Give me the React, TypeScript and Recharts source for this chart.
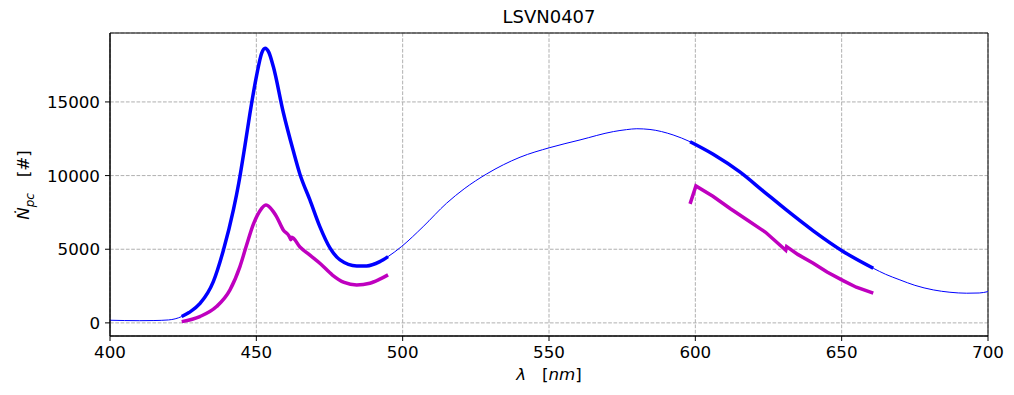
import { LineChart, Line, XAxis, YAxis, CartesianGrid, ReferenceArea } from 'recharts';

// full spectrum (thin line)
const spectrumNm = [400, 405, 410, 415, 420, 424.5, 427, 430.7, 435.3, 438.7, 442.2, 444, 446, 447.8, 450.1, 451.8, 453, 454.2, 455.8, 459.2, 462.6, 464.9, 468.3, 471.7, 475.2, 478.6, 484.3, 487.7, 492.2, 495, 499.6, 507, 515, 521, 528.7, 540.1, 550.3, 560.6, 572, 576.5, 580, 584.5, 592.4, 598.2, 606.1, 615.2, 623.2, 631.2, 640.3, 650.5, 660.8, 665, 669.9, 675, 681.3, 687, 692.7, 697, 700];
const spectrumCounts = [180, 160, 150, 160, 200, 430, 700, 1300, 2800, 4900, 7700, 9500, 11900, 14200, 16800, 18300, 18650, 18400, 17400, 14300, 11700, 10093, 8350, 6536, 5070, 4276, 3869, 3869, 4160, 4500, 5180, 6536, 8124, 9100, 10113, 11247, 11900, 12421, 12986, 13120, 13180, 13130, 12760, 12300, 11450, 10250, 8950, 7650, 6250, 4850, 3710, 3300, 2920, 2550, 2240, 2080, 2015, 2030, 2125];

// thick blue segments
const blueLeftNm = [424.5, 427, 430.7, 435.3, 438.7, 442.2, 444, 446, 447.8, 450.1, 451.8, 453, 454.2, 455.8, 459.2, 462.6, 464.9, 468.3, 471.7, 475.2, 478.6, 484.3, 487.7, 492.2, 495];
const blueLeftCounts = [430, 700, 1300, 2800, 4900, 7700, 9500, 11900, 14200, 16800, 18300, 18650, 18400, 17400, 14300, 11700, 10093, 8350, 6536, 5070, 4276, 3869, 3869, 4160, 4500];
const blueRightNm = [598.2, 606.1, 615.2, 623.2, 631.2, 640.3, 650.5, 660.8];
const blueRightCounts = [12300, 11450, 10250, 8950, 7650, 6250, 4850, 3710];

// magenta segments
const magLeftNm = [424.5, 430.7, 436.4, 441, 444.4, 446.7, 449, 451.2, 453.3, 455.8, 456.9, 459.2, 461.3, 461.8, 462.1, 464.9, 468, 472, 476, 480, 484.3, 488.8, 492, 495];
const magLeftCounts = [88, 428, 1106, 2240, 3821, 5300, 6700, 7600, 8000, 7555, 7215, 6312, 5860, 5650, 5820, 5150, 4650, 4000, 3250, 2750, 2580, 2695, 2950, 3258];
const magRightNm = [598.2, 600.2, 606, 612, 618, 624, 630.9, 631.2, 635, 640.3, 645, 650.5, 655, 660.8];
const magRightCounts = [8077, 9300, 8600, 7750, 6950, 6150, 4930, 5180, 4650, 4052, 3450, 2871, 2420, 2015];

const xTicks = [400, 450, 500, 550, 600, 650, 700];
const yTicks = [0, 5000, 10000, 15000];

const zip = (nm: number[], counts: number[]) => nm.map((x, i) => ({ nm: x, counts: counts[i] }));

const spectrum = zip(spectrumNm, spectrumCounts);
const blueLeft = zip(blueLeftNm, blueLeftCounts);
const blueRight = zip(blueRightNm, blueRightCounts);
const magLeft = zip(magLeftNm, magLeftCounts);
const magRight = zip(magRightNm, magRightCounts);

const font = 'DejaVu Sans, sans-serif';
const tickStyle = { fill: '#000', fontSize: 16.7, fontFamily: font };
const Y_MIN = -890;
const Y_MAX = 19680;

export default function App() {
  return (
    <div style={{ position: 'absolute', left: 0, top: 0, width: 1014, height: 395, background: '#fff', fontFamily: font }}>
      <LineChart width={1014} height={395} margin={{ top: 33, right: 26, bottom: 0, left: 0 }}>
        <CartesianGrid stroke="#b0b0b0" strokeDasharray="3.7 1.6" />
        <XAxis
          type="number"
          dataKey="nm"
          domain={[400, 700]}
          ticks={xTicks}
          allowDataOverflow
          height={59}
          tick={tickStyle}
          tickSize={5}
          tickMargin={5}
          stroke="#000"
        />
        <YAxis
          type="number"
          dataKey="counts"
          domain={[Y_MIN, Y_MAX]}
          ticks={yTicks}
          allowDataOverflow
          width={110}
          tick={tickStyle}
          tickSize={5}
          tickMargin={5}
          stroke="#000"
        />
        <ReferenceArea x1={400} x2={700} y1={Y_MIN} y2={Y_MAX} fill="none" stroke="#000" strokeWidth={1} />
        <Line data={spectrum} dataKey="counts" type="monotone" stroke="#0000ff" strokeWidth={1} dot={false} isAnimationActive={false} />
        <Line data={blueLeft} dataKey="counts" type="monotone" stroke="#0000ff" strokeWidth={3.5} dot={false} isAnimationActive={false} />
        <Line data={blueRight} dataKey="counts" type="monotone" stroke="#0000ff" strokeWidth={3.5} dot={false} isAnimationActive={false} />
        <Line data={magLeft} dataKey="counts" type="monotone" stroke="#bf00bf" strokeWidth={3.5} dot={false} isAnimationActive={false} />
        <Line data={magRight} dataKey="counts" type="linear" stroke="#bf00bf" strokeWidth={3.5} dot={false} isAnimationActive={false} />
      </LineChart>
      <div style={{ position: 'absolute', left: 0, width: 1098, top: 6, textAlign: 'center', fontSize: 18, color: '#000' }}>
        LSVN0407
      </div>
      <div style={{ position: 'absolute', left: 0, width: 1098, top: 364, textAlign: 'center', fontSize: 16.7, color: '#000', whiteSpace: 'pre' }}>
        <i>λ</i>{'   ['}<i>nm</i>{']'}
      </div>
      <div
        style={{
          position: 'absolute',
          left: 25,
          top: 185,
          fontSize: 16.7,
          color: '#000',
          whiteSpace: 'pre',
          transform: 'translate(-50%, -50%) rotate(-90deg)',
        }}
      >
        <i>Ṅ</i><sub style={{ fontSize: 12 }}><i>pc</i></sub>{'   [#]'}
      </div>
    </div>
  );
}
